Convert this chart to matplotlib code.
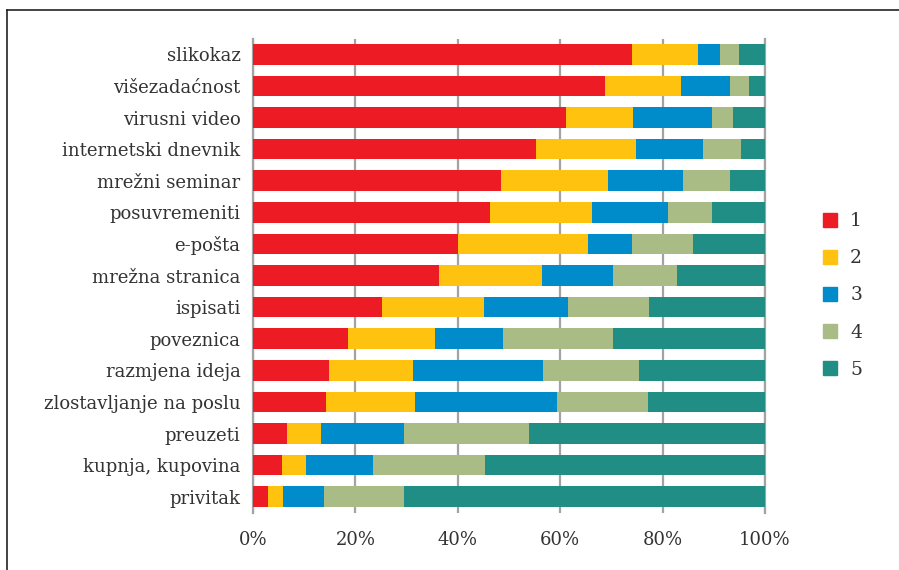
import numpy as np, matplotlib
matplotlib.use("Agg")
import matplotlib.pyplot as plt
from matplotlib.lines import Line2D

categories = ['slikokaz','višezadaćnost','virusni video','internetski dnevnik',
              'mrežni seminar','posuvremeniti','e-pošta','mrežna stranica',
              'ispisati','poveznica','razmjena ideja','zlostavljanje na poslu',
              'preuzeti','kupnja, kupovina','privitak']
s1 = [74.1, 68.7, 61.1, 55.2, 48.4, 46.2, 40.1, 36.3, 25.2, 18.6, 14.9, 14.3, 6.7, 5.7, 3.0]
s2 = [12.9, 14.8, 13.1, 19.7, 21.0, 20.0, 25.4, 20.1, 20.0, 17.0, 16.3, 17.4, 6.6, 4.7, 2.9]
s3 = [4.3, 9.6, 15.4, 13.0, 14.6, 14.9, 8.6, 14.0, 16.3, 13.3, 25.5, 27.6, 16.2, 13.1, 7.9]
s4 = [3.7, 3.7, 4.1, 7.5, 9.2, 8.6, 11.9, 12.4, 15.9, 21.5, 18.7, 17.8, 24.5, 21.9, 15.7]
s5 = [5.0, 3.2, 6.3, 4.6, 6.8, 10.3, 14.0, 17.2, 22.6, 29.6, 24.6, 22.9, 46.0, 54.6, 70.5]
series_names = ['1','2','3','4','5']
ticks = [0, 20, 40, 60, 80, 100]

colors = ['#ED1C24','#FEC20F','#008BCB','#A9BC86','#208E84']
txt = '#333333'
grid = '#A3A3A3'
plt.rcParams['font.family'] = ['DejaVu Serif']

fig = plt.figure(figsize=(8.99, 5.70), dpi=100)
ax = fig.add_axes([253/899, 1-512.5/570, (765-253)/899, (512.5-38.5)/570])

y = np.arange(len(categories))
left = np.zeros(len(categories))
for vals, c, n in zip([s1, s2, s3, s4, s5], colors, series_names):
    ax.barh(y, vals, left=left, height=0.65, color=c, linewidth=0, label=n, zorder=3)
    left += np.array(vals)

ax.set_ylim(len(categories)-0.5, -0.5)
ax.set_xlim(0, 100)
ax.set_yticks(y)
ax.set_yticklabels(categories)
ax.set_xticks(ticks)
ax.set_xticklabels([f"{t}%" for t in ticks])
ax.tick_params(axis='both', length=0, labelsize=13, labelcolor=txt)
ax.tick_params(axis='y', pad=9)
ax.tick_params(axis='x', pad=13)
ax.grid(axis='x', color=grid, linewidth=1.6, zorder=0)
ax.grid(axis='y', visible=False)
for s in ['top','bottom']:
    ax.spines[s].set_visible(False)
for s in ['left','right']:
    ax.spines[s].set_color(grid); ax.spines[s].set_linewidth(1.6)

# legenda
handles = [Line2D([], [], marker='s', linestyle='', markersize=9.5, color=c) for c in colors]
fig.legend(handles, series_names, loc='center left', bbox_to_anchor=(822/899, 1-295.5/570),
           frameon=False, fontsize=13.5, labelcolor=txt, handlelength=0.9, handletextpad=0.6,
           labelspacing=1.02, borderpad=0, borderaxespad=0)

# okvir
fig.add_artist(Line2D([7/899, 1], [1-9.5/570, 1-9.5/570], color='#222222', linewidth=1.2))
fig.add_artist(Line2D([7/899, 7/899], [0, 1-9.5/570], color='#222222', linewidth=1.2))

fig.savefig("out.png", dpi=100)
plt.close(fig)
